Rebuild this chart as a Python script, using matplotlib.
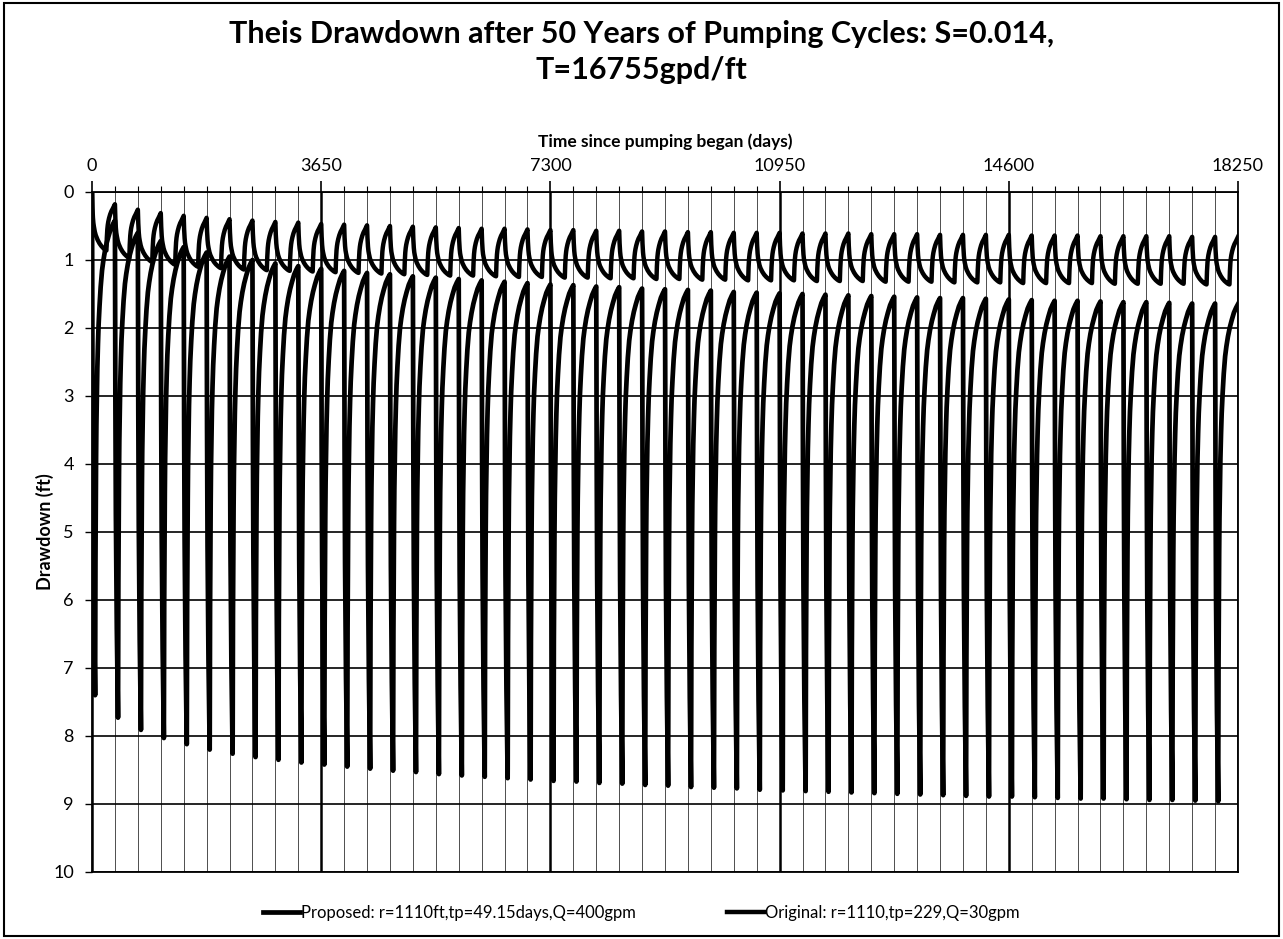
import matplotlib.pyplot as plt
import numpy as np
from matplotlib.patches import Rectangle

plt.rcParams["font.family"] = ["Lato", "DejaVu Sans"]

CYCLE_DAYS = 365

# deepest drawdown of each yearly cycle, end of pumping (ft)
proposed_peak = [7.40, 7.73, 7.91, 8.03, 8.12, 8.20, 8.26, 8.31, 8.35, 8.39,
                 8.42, 8.45, 8.48, 8.51, 8.53, 8.56, 8.58, 8.60, 8.62, 8.64,
                 8.66, 8.67, 8.69, 8.70, 8.72, 8.73, 8.75, 8.76, 8.77, 8.79,
                 8.80, 8.81, 8.82, 8.83, 8.84, 8.85, 8.86, 8.87, 8.88, 8.89,
                 8.89, 8.90, 8.91, 8.92, 8.92, 8.93, 8.94, 8.94, 8.95, 8.96]
# drawdown left at the end of each year (ft)
proposed_residual = [0.42, 0.60, 0.72, 0.81, 0.89, 0.95, 1.00, 1.05, 1.09, 1.13,
                     1.16, 1.19, 1.21, 1.24, 1.26, 1.28, 1.30, 1.32, 1.34, 1.36,
                     1.37, 1.39, 1.40, 1.42, 1.43, 1.44, 1.45, 1.47, 1.48, 1.49,
                     1.50, 1.51, 1.52, 1.53, 1.54, 1.55, 1.56, 1.56, 1.57, 1.58,
                     1.59, 1.60, 1.60, 1.61, 1.62, 1.62, 1.63, 1.64, 1.64, 1.65]
original_peak = [0.86, 0.97, 1.03, 1.07, 1.10, 1.12, 1.14, 1.15, 1.16, 1.17,
                 1.18, 1.19, 1.20, 1.21, 1.22, 1.23, 1.23, 1.24, 1.25, 1.25,
                 1.26, 1.26, 1.27, 1.27, 1.28, 1.28, 1.29, 1.29, 1.30, 1.30,
                 1.30, 1.31, 1.31, 1.31, 1.32, 1.32, 1.32, 1.33, 1.33, 1.33,
                 1.34, 1.34, 1.34, 1.34, 1.35, 1.35, 1.35, 1.35, 1.36, 1.36]
original_residual = [0.18, 0.26, 0.31, 0.35, 0.38, 0.40, 0.42, 0.44, 0.45, 0.47,
                     0.48, 0.49, 0.50, 0.51, 0.52, 0.53, 0.54, 0.54, 0.55, 0.56,
                     0.56, 0.57, 0.57, 0.58, 0.58, 0.59, 0.59, 0.60, 0.60, 0.60,
                     0.61, 0.61, 0.61, 0.62, 0.62, 0.62, 0.63, 0.63, 0.63, 0.63,
                     0.64, 0.64, 0.64, 0.65, 0.65, 0.65, 0.65, 0.66, 0.66, 0.66]

# shape of one cycle, read off a mid-chart year:
# days into the year and fraction of the swing already done
proposed_pump_days = [0, 1, 3, 7, 15, 30, 49.15]
proposed_pump_frac = [0, 0.03, 0.14, 0.35, 0.59, 0.82, 1.0]
proposed_rec_days = [49.15, 50, 52, 55, 60, 65, 70, 78, 85, 95, 105, 120, 138,
                     160, 180, 205, 234, 265, 300, 335, 365]
proposed_rec_frac = [0, 0.02, 0.13, 0.28, 0.41, 0.50, 0.57, 0.64, 0.69, 0.74, 0.78,
                     0.82, 0.86, 0.895, 0.915, 0.935, 0.953, 0.968, 0.983, 0.993, 1.0]

original_pump_days = [0, 1, 3, 7, 15, 22, 30, 45, 60, 90, 120, 150, 180, 205, 229]
original_pump_frac = [0, 0.02, 0.10, 0.26, 0.44, 0.53, 0.59, 0.68, 0.74, 0.82,
                      0.88, 0.925, 0.96, 0.985, 1.0]
original_rec_days = [229, 230, 232, 236, 240, 244, 251, 259, 272, 289, 309, 329, 348, 365]
original_rec_frac = [0, 0.02, 0.11, 0.27, 0.37, 0.46, 0.55, 0.62, 0.70, 0.78,
                     0.85, 0.90, 0.955, 1.0]

x_ticks = [0, 3650, 7300, 10950, 14600, 18250]
y_ticks = list(range(0, 11))

title = "Theis Drawdown after 50 Years of Pumping Cycles: S=0.014,\nT=16755gpd/ft"
label_proposed = "Proposed: r=1110ft,tp=49.15days,Q=400gpm"
label_original = "Original: r=1110,tp=229,Q=30gpm"


def build_series(peak, residual, pump_days, pump_frac, rec_days, rec_frac):
    """
    Chain the yearly cycles into one time series

    Args:
        :param peak: drawdown at the end of pumping, one value per year
        :param residual: drawdown at the end of the year, one value per year
    """
    t, s = [], []
    start = 0.0
    for k in range(len(peak)):
        t0 = k * CYCLE_DAYS
        first = 0 if k == 0 else 1
        for d, f in zip(pump_days[first:], pump_frac[first:]):
            t.append(t0 + d)
            s.append(start + (peak[k] - start) * f)
        for d, f in zip(rec_days[1:], rec_frac[1:]):
            t.append(t0 + d)
            s.append(peak[k] + (residual[k] - peak[k]) * f)
        start = residual[k]
    return np.array(t), np.array(s)


t_prop, s_prop = build_series(proposed_peak, proposed_residual,
                              proposed_pump_days, proposed_pump_frac,
                              proposed_rec_days, proposed_rec_frac)
t_orig, s_orig = build_series(original_peak, original_residual,
                              original_pump_days, original_pump_frac,
                              original_rec_days, original_rec_frac)

W, H = 1283, 939
fig = plt.figure(figsize=(W / 100, H / 100), dpi=100)
ax = fig.add_axes([92 / W, 1 - 872 / H, (1238 - 92) / W, (872 - 192) / H])

ax.plot(t_prop, s_prop, color="k", lw=3.4, label=label_proposed, zorder=3)
ax.plot(t_orig, s_orig, color="k", lw=3.2, label=label_original, zorder=3)

ax.set_xlim(0, 18250)
ax.set_ylim(10, 0)
ax.xaxis.tick_top()
ax.xaxis.set_label_position("top")
ax.set_xticks(x_ticks)
ax.set_xticks(np.arange(0, 18251, 365), minor=True)
ax.set_yticks(y_ticks)
ax.tick_params(axis="x", which="major", length=8, width=1.2, labelsize=13, pad=5)
ax.tick_params(axis="x", which="minor", length=4, width=0.8)
ax.tick_params(axis="y", which="major", length=5, width=1.0, labelsize=13, pad=8)

ax.grid(axis="y", which="major", color="k", lw=1.2)
ax.grid(axis="x", which="major", color="k", lw=1.8)
ax.grid(axis="x", which="minor", color="0.3", lw=0.7)
for sp in ax.spines.values():
    sp.set_linewidth(1.3)

ax.set_xlabel("Time since pumping began (days)", fontsize=12.5, fontweight="bold", labelpad=8)
fig.text(45 / W, 1 - 532 / H, "Drawdown (ft)", rotation=90, ha="center", va="center",
         fontsize=13, fontweight="bold")
fig.text(0.5, 1 - 52 / H, title, ha="center", va="center", fontsize=22,
         fontweight="bold", linespacing=1.35)

fig.legend(loc="center", bbox_to_anchor=(0.5, 1 - 913 / H), ncol=2, frameon=False,
           fontsize=12, handlelength=2.2, handletextpad=0.05, columnspacing=5.5)

fig.patches.append(Rectangle((0.003, 0.003), 0.994, 0.994, transform=fig.transFigure,
                             fill=False, lw=1.5, ec="k"))

fig.savefig("out.png", dpi=100)
